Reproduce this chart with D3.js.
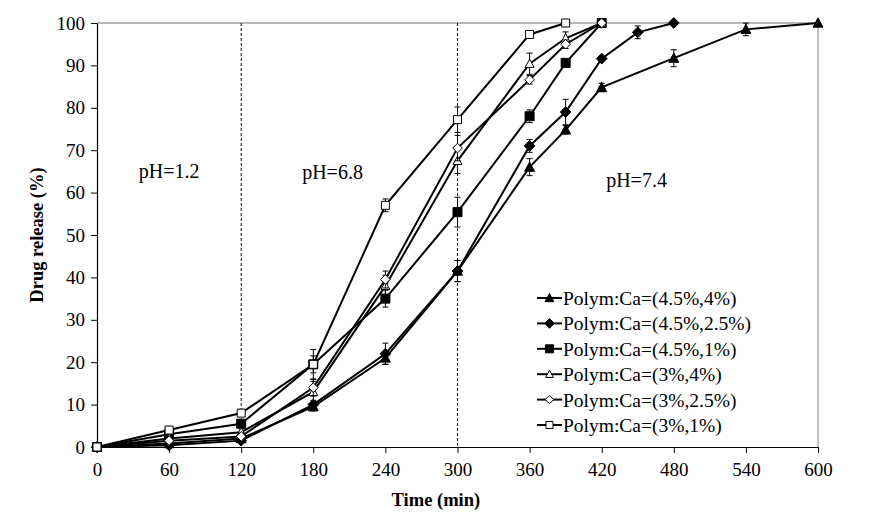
<!DOCTYPE html>
<html>
<head>
<meta charset="utf-8">
<script src="https://cdn.jsdelivr.net/npm/d3@7/dist/d3.min.js"></script>
<style>
  body { margin: 0; background: #fff; }
  text { font-family: "Liberation Serif", "Times New Roman", serif; }
</style>
</head>
<body>
<div id="chart"></div>
<script>
// drug release chart

var margin = { top: 23, right: 55, bottom: 75, left: 97 },
    width = 873 - margin.left - margin.right,
    height = 522 - margin.top - margin.bottom;

var xTicks = [0, 60, 120, 180, 240, 300, 360, 420, 480, 540, 600];
var yTicks = [0, 10, 20, 30, 40, 50, 60, 70, 80, 90, 100];
var phLines = [120, 300];
var phLabels = ["pH=1.2", "pH=6.8", "pH=7.4"];
var phLabelX = [60, 196, 449];
var phLabelY = [63.4, 63.2, 61.3];

var seriesNames = ["Polym:Ca=(4.5%,4%)", "Polym:Ca=(4.5%,2.5%)", "Polym:Ca=(4.5%,1%)",
                   "Polym:Ca=(3%,4%)", "Polym:Ca=(3%,2.5%)", "Polym:Ca=(3%,1%)"];
var seriesShape = ["triangle", "diamond", "square", "triangle", "diamond", "square"];
var seriesFilled = [true, true, true, false, false, false];

var timesA = [0, 60, 120, 180, 240, 300, 360, 390, 420, 480, 540, 600];
var valuesA = [0, 0.8, 2, 9.5, 21, 41.5, 66, 74.8, 84.8, 91.7, 98.5, 100];
var errorsA = [0, 0.3, 0.5, 1, 1.5, 2.5, 2, 1, 1, 2, 1.5, 0];

var timesB = [0, 60, 120, 180, 240, 300, 360, 390, 420, 450, 480];
var valuesB = [0, 0.4, 1.5, 10, 22, 41.5, 71, 79, 91.6, 97.8, 100];
var errorsB = [0, 0.3, 0.5, 1, 2.5, 2.5, 1.5, 3, 0.5, 1.5, 0];

var timesC = [0, 60, 120, 180, 240, 300, 360, 390, 420];
var valuesC = [0, 3, 5.5, 19.5, 35, 55.4, 78, 90.6, 100];
var errorsC = [0, 0.5, 0.8, 3.5, 2, 3.5, 1.5, 0.5, 0];

var timesD = [0, 60, 120, 180, 240, 300, 360, 390, 420];
var valuesD = [0, 2, 3.5, 13, 38, 67.5, 90.4, 96.4, 100];
var errorsD = [0, 0.5, 0.8, 2.5, 2.5, 3, 2.5, 1.5, 0];

var timesE = [0, 60, 120, 180, 240, 300, 360, 390, 420];
var valuesE = [0, 1.5, 2.5, 14, 39.5, 70.5, 86.6, 95, 100];
var errorsE = [0, 0.5, 0.8, 2, 2, 3, 1, 1, 0];

var timesF = [0, 60, 120, 180, 240, 300, 360, 390];
var valuesF = [0, 4, 8, 19.5, 57, 77.2, 97.3, 100];
var errorsF = [0, 0.5, 0.8, 2, 1.5, 3, 0.5, 0];

var allTimes = [timesA, timesB, timesC, timesD, timesE, timesF];
var allValues = [valuesA, valuesB, valuesC, valuesD, valuesE, valuesF];
var allErrors = [errorsA, errorsB, errorsC, errorsD, errorsE, errorsF];

var series = seriesNames.map(function (name, i) {
    return {
        name: name, shape: seriesShape[i], filled: seriesFilled[i],
        points: allTimes[i].map(function (t, j) {
            return { t: t, v: allValues[i][j], e: allErrors[i][j] };
        })
    };
});

var svg = d3.select("#chart")
    .append("svg")
    .attr("width", 873)
    .attr("height", 522);

var g = svg.append("g")
    .attr("transform", "translate(" + margin.left + "," + margin.top + ")");

var x = d3.scaleLinear().domain([0, 600]).range([0, width]);
var y = d3.scaleLinear().domain([0, 100]).range([height, 0]);

// gray frame top and right
g.append("line").attr("x1", 0).attr("x2", width).attr("y1", 0).attr("y2", 0)
    .attr("stroke", "#a0a0a0").attr("stroke-width", 1.3);
g.append("line").attr("x1", width).attr("x2", width).attr("y1", 0).attr("y2", height)
    .attr("stroke", "#a0a0a0").attr("stroke-width", 1.3);

// axes
var xAxis = g.append("g")
    .attr("transform", "translate(0," + height + ")")
    .call(d3.axisBottom(x).tickValues(xTicks).tickSize(6).tickSizeOuter(0).tickPadding(10));
var yAxis = g.append("g")
    .call(d3.axisLeft(y).tickValues(yTicks).tickSize(6).tickSizeOuter(0).tickPadding(6));

[xAxis, yAxis].forEach(function (ax) {
    ax.select(".domain").attr("stroke", "#000").attr("stroke-width", 1.2);
    ax.selectAll(".tick line").attr("stroke", "#000");
    ax.selectAll(".tick text")
        .attr("fill", "#000")
        .style("font-family", "'Liberation Serif', serif")
        .style("font-size", "19px");
});

// pH boundaries
g.selectAll(".phLine")
    .data(phLines)
    .enter()
    .append("line")
    .attr("class", "phLine")
    .attr("x1", function (d) { return x(d); })
    .attr("x2", function (d) { return x(d); })
    .attr("y1", 0)
    .attr("y2", height)
    .attr("stroke", "#111")
    .attr("stroke-width", 1)
    .attr("stroke-dasharray", "3,2");

g.selectAll(".phLabel")
    .data(phLabels)
    .enter()
    .append("text")
    .attr("class", "phLabel")
    .attr("x", function (d, i) { return x(phLabelX[i]); })
    .attr("y", function (d, i) { return y(phLabelY[i]); })
    .attr("text-anchor", "middle")
    .style("font-size", "20px")
    .text(function (d) { return d; });

// markers
function markerPath(shape, size) {
    var s = size / 2;
    if (shape === "square") {
        return "M" + (-s) + "," + (-s) + "H" + s + "V" + s + "H" + (-s) + "Z";
    } else if (shape === "diamond") {
        var d = s * 1.2;
        return "M0," + (-d) + "L" + d + ",0L0," + d + "L" + (-d) + ",0Z";
    }
    var h = s * 1.15;
    return "M0," + (-h) + "L" + (s * 1.1) + "," + (h * 0.8) + "L" + (-s * 1.1) + "," + (h * 0.8) + "Z";
}

var line = d3.line()
    .x(function (d) { return x(d.t); })
    .y(function (d) { return y(d.v); });

var sg = g.selectAll(".series")
    .data(series)
    .enter()
    .append("g")
    .attr("class", "series");

// error bars
sg.each(function (s) {
    var eg = d3.select(this).append("g");
    var pts = s.points.filter(function (p) { return p.e > 0; });
    eg.selectAll(".err")
        .data(pts)
        .enter()
        .append("path")
        .attr("class", "err")
        .attr("fill", "none")
        .attr("stroke", "#000")
        .attr("stroke-width", 1)
        .attr("d", function (p) {
            var cx = x(p.t), y1 = y(p.v + p.e), y2 = y(p.v - p.e);
            return "M" + (cx - 3) + "," + y1 + "H" + (cx + 3) +
                   "M" + cx + "," + y1 + "V" + y2 +
                   "M" + (cx - 3) + "," + y2 + "H" + (cx + 3);
        });
});

sg.append("path")
    .attr("fill", "none")
    .attr("stroke", "#000")
    .attr("stroke-width", 2)
    .attr("d", function (s) { return line(s.points); });

sg.each(function (s) {
    var size = s.filled ? 9 : 8;
    d3.select(this).selectAll(".mark")
        .data(s.points)
        .enter()
        .append("path")
        .attr("class", "mark")
        .attr("transform", function (p) { return "translate(" + x(p.t) + "," + y(p.v) + ")"; })
        .attr("d", markerPath(s.shape, size))
        .attr("fill", s.filled ? "#000" : "#fff")
        .attr("stroke", "#000")
        .attr("stroke-width", 1);
});

// legend
var legend = g.append("g")
    .attr("transform", "translate(" + (537 - margin.left) + "," + (298 - margin.top) + ")");

var li = legend.selectAll(".legItem")
    .data(series)
    .enter()
    .append("g")
    .attr("class", "legItem")
    .attr("transform", function (d, i) { return "translate(0," + (i * 25.4) + ")"; });

li.append("line")
    .attr("x1", 0).attr("x2", 25).attr("y1", 0).attr("y2", 0)
    .attr("stroke", "#000").attr("stroke-width", 2);
li.append("path")
    .attr("transform", "translate(12.5,0)")
    .attr("d", function (d) { return markerPath(d.shape, d.filled ? 8 : 7); })
    .attr("fill", function (d) { return d.filled ? "#000" : "#fff"; })
    .attr("stroke", "#000")
    .attr("stroke-width", 1);
li.append("text")
    .attr("x", 26)
    .attr("y", 7)
    .style("font-size", "19.5px")
    .text(function (d) { return d.name; });

// axis titles
svg.append("text")
    .attr("x", margin.left + x(282))
    .attr("y", 506)
    .attr("text-anchor", "middle")
    .style("font-size", "18.5px")
    .style("font-weight", "bold")
    .text("Time (min)");

svg.append("text")
    .attr("transform", "translate(43," + (margin.top + y(50)) + ") rotate(-90)")
    .attr("text-anchor", "middle")
    .style("font-size", "18.5px")
    .style("font-weight", "bold")
    .text("Drug release (%)");
</script>
</body>
</html>
